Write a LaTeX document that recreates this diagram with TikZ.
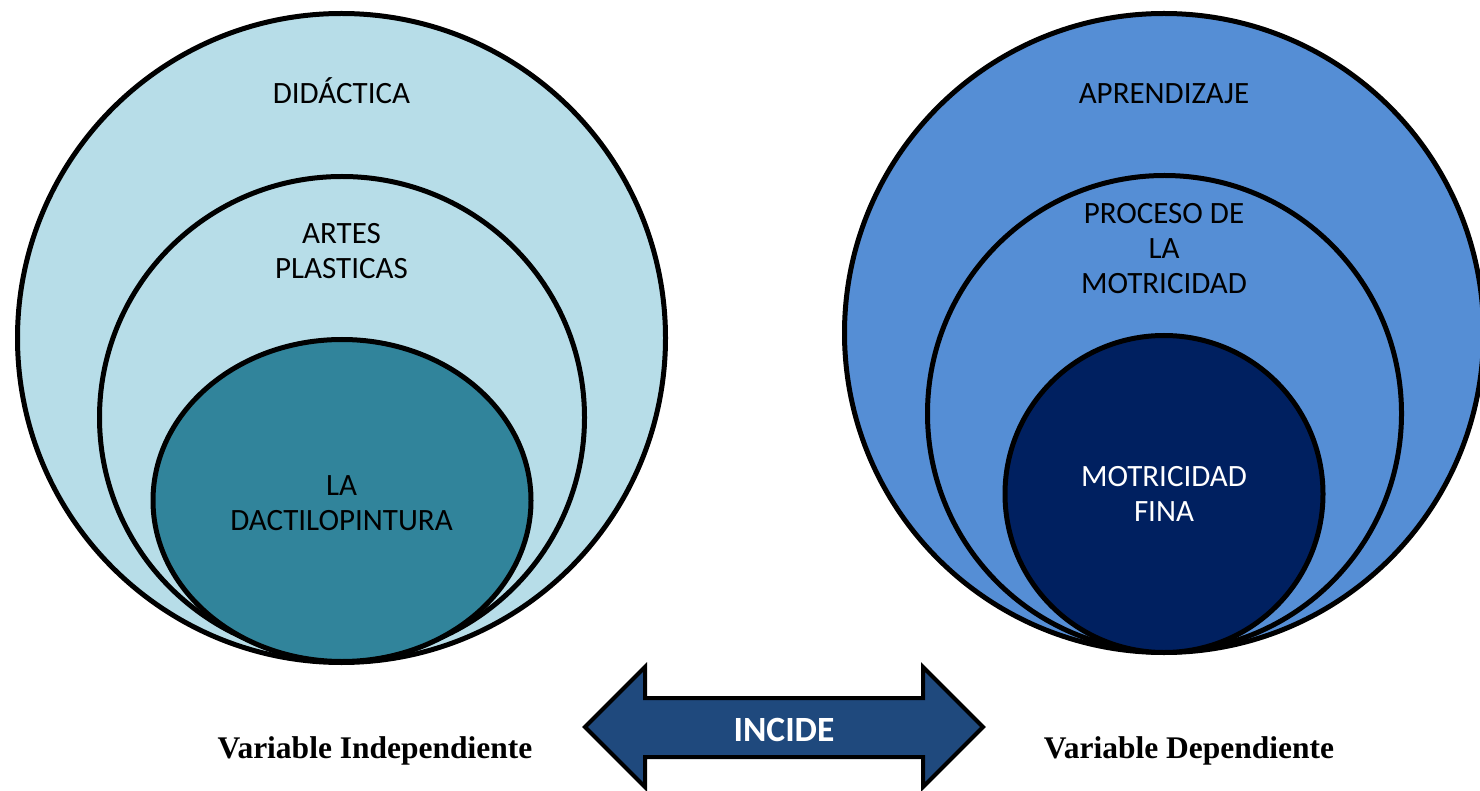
\documentclass[tikz,border=0pt]{standalone}
\usepackage{fontspec}
\setmainfont{Liberation Serif}
\newfontfamily\calfont{Carlito}
\usetikzlibrary{shapes.geometric}
\definecolor{lightcyan}{HTML}{B7DDE8}
\definecolor{tealc}{HTML}{31849B}
\definecolor{midblue}{HTML}{558ED5}
\definecolor{navy}{HTML}{002060}
\definecolor{arrowblue}{HTML}{1F497D}
\tikzset{
  ring/.style={ellipse, draw=black, line width=5pt, inner sep=0pt, outer sep=0pt},
  lbl/.style={font=\calfont\fontsize{31}{35}\selectfont, align=center, inner sep=0pt},
  varlbl/.style={font=\bfseries\fontsize{31.5}{36}\selectfont, inner sep=0pt},
}
\begin{document}
\begin{tikzpicture}[x=1pt,y=-1pt]
\useasboundingbox (0,0) rectangle (1480,791);
\clip (0,0) rectangle (1480,791);
% left set
\node[ring, fill=lightcyan, minimum width=648pt, minimum height=649pt] (lout) at (341.5,338) {};
\node[ring, fill=lightcyan, minimum width=485pt, minimum height=482pt] (lmid) at (342,417.5) {};
\node[ring, fill=tealc, minimum width=378pt, minimum height=322pt] (lin) at (342,500.5) {};
% right set
\node[ring, fill=midblue, minimum width=639pt, minimum height=639pt] (rout) at (1164,333) {};
\node[ring, fill=midblue, minimum width=474pt, minimum height=476pt] (rmid) at (1164.5,413.5) {};
\node[ring, fill=navy, minimum width=318pt, minimum height=317pt] (rin) at (1164,494) {};
% labels (base = baseline of last line)
\node[lbl, anchor=base] (t1) at (341.5,104) {DIDÁCTICA};
\node[lbl, anchor=base] (t2) at (341.5,279) {ARTES\\PLASTICAS};
\node[lbl, anchor=base] (t3) at (341.5,530) {LA\\DACTILOPINTURA};
\node[lbl, anchor=base] (t4) at (1164,104) {APRENDIZAJE};
\node[lbl, anchor=base] (t5) at (1164,294) {PROCESO DE\\LA\\MOTRICIDAD};
\node[lbl, anchor=base, text=white] (t6) at (1164,521) {MOTRICIDAD\\FINA};
% double arrow
\draw[line width=4pt, fill=arrowblue, line join=miter]
  (585,727) -- (645,667) -- (645,698) -- (923,698) -- (923,667) -- (983,727)
  -- (923,787) -- (923,757) -- (645,757) -- (645,787) -- cycle;
\node[font=\calfont\bfseries\fontsize{35.5}{40}\selectfont, text=white, anchor=base, inner sep=0pt] (inc) at (784,741) {INCIDE};
% variable labels
\node[varlbl, anchor=base] (vi) at (375,758) {Variable Independiente};
\node[varlbl, anchor=base] (vd) at (1189,758) {Variable Dependiente};
\end{tikzpicture}
\end{document}
